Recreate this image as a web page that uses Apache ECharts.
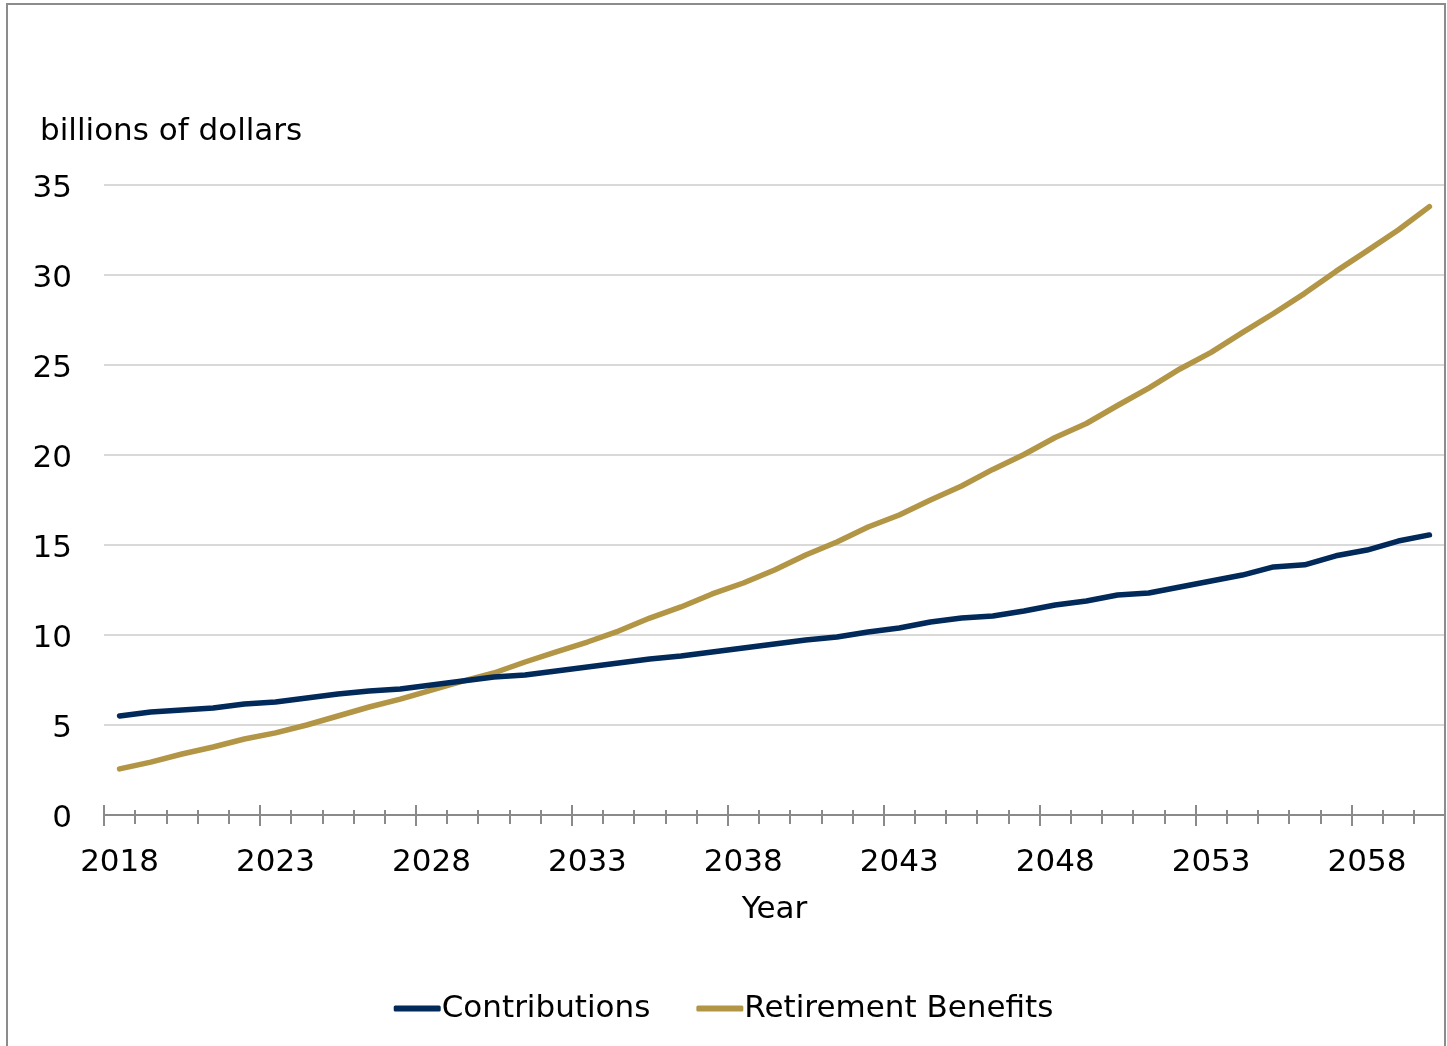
<!DOCTYPE html>
<html>
<head>
<meta charset="utf-8">
<script src="https://cdn.jsdelivr.net/npm/echarts@6/dist/echarts.min.js"></script>
<style>
html,body{margin:0;padding:0;background:#fff;}
#chart{width:1447px;height:1046px;}
</style>
</head>
<body>
<div id="chart"></div>
<script>
const years = [];
for (let y = 2018; y <= 2060; y++) years.push(String(y));

const contributions = [5.50, 5.72, 5.83, 5.94, 6.17, 6.28, 6.50, 6.72, 6.89, 7.00,
  7.22, 7.44, 7.67, 7.78, 8.00, 8.22, 8.44, 8.67, 8.83, 9.06,
  9.28, 9.50, 9.72, 9.89, 10.17, 10.39, 10.72, 10.94, 11.06, 11.33,
  11.67, 11.89, 12.22, 12.33, 12.67, 13.00, 13.33, 13.78, 13.90, 14.40,
  14.72, 15.22, 15.56];

const retirementBenefits = [2.56, 2.94, 3.39, 3.78, 4.22, 4.56, 5.00, 5.50, 6.00, 6.44,
  6.94, 7.44, 7.89, 8.50, 9.06, 9.61, 10.22, 10.94, 11.56, 12.28,
  12.89, 13.61, 14.44, 15.17, 16.00, 16.67, 17.50, 18.28, 19.20, 20.03,
  20.97, 21.75, 22.75, 23.72, 24.78, 25.70, 26.80, 27.86, 28.98, 30.20,
  31.34, 32.50, 33.80];

const yTicks = {min: 0, max: 35, interval: 5};

const FONT = 'DejaVu Sans';
const FS = 31;
const TICK = '#8a8a8a';

const chart = echarts.init(document.getElementById('chart'), null, {renderer: 'canvas'});

function extraAxis(inside, len, interval) {
  return {
    type: 'category', data: years, position: 'bottom', boundaryGap: true,
    axisLine: {show: false},
    axisLabel: {show: false},
    axisTick: {show: true, inside: inside, length: len, interval: interval,
      lineStyle: {color: TICK, width: 2}},
    splitLine: {show: false}
  };
}

chart.setOption({
  backgroundColor: '#ffffff',
  animation: false,
  textStyle: {fontFamily: FONT},
  title: {
    text: 'billions of dollars',
    left: 35, top: 111,
    textStyle: {fontFamily: FONT, fontSize: FS, fontWeight: 'normal', color: '#000'}
  },
  graphic: [{
    type: 'rect', shape: {x: 7, y: 4, width: 1438, height: 1100},
    style: {fill: 'none', stroke: '#8c8c8c', lineWidth: 2}, silent: true, z: 100
  }],
  legend: {
    bottom: 17, left: 'center',
    itemGap: 46, itemWidth: 47, itemHeight: 6,
    icon: 'roundRect',
    textStyle: {fontFamily: FONT, fontSize: FS, color: '#000', padding: [0, 0, 0, -4]},
    data: ['Contributions', 'Retirement Benefits']
  },
  grid: {left: 104, right: 2, top: 185, bottom: 231, containLabel: false},
  xAxis: [
    {
      type: 'category', data: years, position: 'bottom', boundaryGap: true,
      name: 'Year', nameLocation: 'middle', nameGap: 79,
      nameTextStyle: {fontFamily: FONT, fontSize: FS, color: '#000'},
      axisLine: {show: true, lineStyle: {color: TICK, width: 2}},
      axisTick: {show: true, inside: false, length: 9, interval: 0,
        lineStyle: {color: TICK, width: 2}},
      axisLabel: {interval: 4, margin: 32, fontFamily: FONT, fontSize: FS, color: '#000'},
      splitLine: {show: false}
    },
    extraAxis(true, 5, 0),
    extraAxis(false, 11, 4),
    extraAxis(true, 10, 4)
  ],
  yAxis: {
    type: 'value', min: yTicks.min, max: yTicks.max, interval: yTicks.interval,
    axisLine: {show: false}, axisTick: {show: false},
    axisLabel: {margin: 32, color: '#000',
      formatter: function (v) { return '{a|' + v + '}'; },
      rich: {a: {fontFamily: FONT, fontSize: FS, color: '#000', padding: [8, 0, 0, 0]}}},
    splitLine: {show: true, lineStyle: {color: '#d9d9d9', width: 2}}
  },
  series: [
    {
      name: 'Contributions', type: 'line', data: contributions,
      xAxisIndex: 0, symbol: 'none', smooth: false,
      lineStyle: {color: '#012a5a', width: 5.5, cap: 'round', join: 'round'},
      itemStyle: {color: '#012a5a'}, z: 3
    },
    {
      name: 'Retirement Benefits', type: 'line', data: retirementBenefits,
      xAxisIndex: 0, symbol: 'none', smooth: false,
      lineStyle: {color: '#b39546', width: 5.5, cap: 'round', join: 'round'},
      itemStyle: {color: '#b39546'}, z: 2
    }
  ]
});
</script>
</body>
</html>
